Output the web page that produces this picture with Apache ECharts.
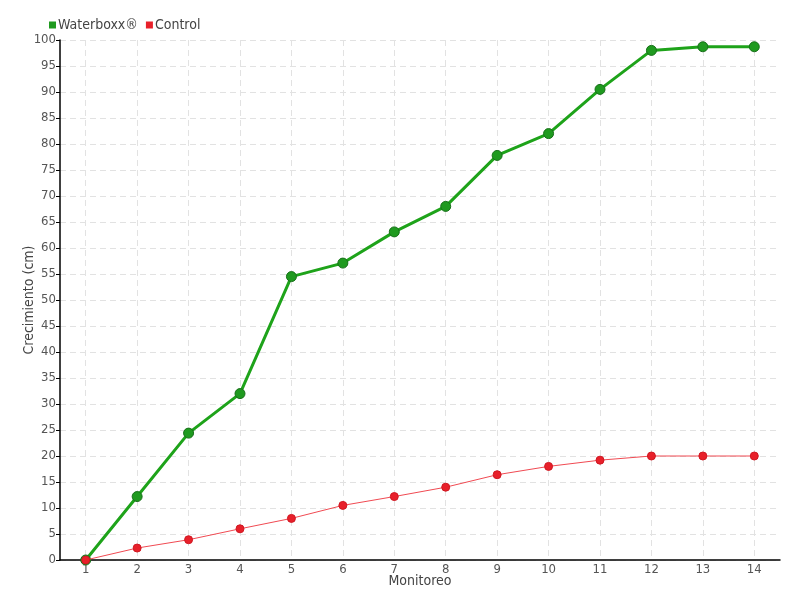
<!DOCTYPE html>
<html><head><meta charset="utf-8">
<script src="https://cdn.jsdelivr.net/npm/echarts@6/dist/echarts.min.js"></script>
<style>html,body{margin:0;padding:0;background:#fff}#c{width:800px;height:600px}</style>
</head><body><div id="c"></div>
<script>
const categories = ['1','2','3','4','5','6','7','8','9','10','11','12','13','14'];
const waterboxx = [0, 12.2, 24.4, 32.0, 54.5, 57.1, 63.1, 68.0, 77.8, 82.0, 90.5, 98.0, 98.7, 98.7];
const control = [0, 2.3, 3.9, 6.0, 8.0, 10.5, 12.2, 14.0, 16.4, 18.0, 19.2, 20.0, 20.0, 20.0];
const seriesNames = ['Waterboxx®', 'Control'];
const FONT = '"DejaVu Sans Condensed", "Liberation Sans Narrow", sans-serif';

const chart = echarts.init(document.getElementById('c'));
chart.setOption({
  backgroundColor: '#fff',
  textStyle: { fontFamily: FONT },
  legend: {
    left: 44, top: 13, itemWidth: 7, itemHeight: 7, itemGap: 8,
    icon: 'rect',
    itemStyle: { borderWidth: 0 },
    textStyle: { fontFamily: FONT, fontSize: 14, color: '#444', padding: [0,0,0,-3] },
    data: seriesNames
  },
  grid: { left: 60, right: 20, top: 40, bottom: 40 },
  xAxis: {
    type: 'category', data: categories, boundaryGap: true,
    name: 'Monitoreo', nameLocation: 'middle', nameGap: 14, nameMoveOverlap: false,
    nameTextStyle: { fontFamily: FONT, fontSize: 14, color: '#444', verticalAlign: 'top' },
    axisLine: { lineStyle: { color: '#000', width: 1.5 } },
    axisTick: { alignWithLabel: true, length: 4, lineStyle: { color: '#000' } },
    axisLabel: { fontFamily: FONT, fontSize: 13, color: '#555', margin: 3 },
    splitLine: { show: true, alignWithLabel: true, lineStyle: { color: '#e2e2e2', type: [6, 4] } }
  },
  yAxis: {
    type: 'value', min: 0, max: 100, interval: 5,
    name: 'Crecimiento (cm)', nameLocation: 'middle', nameGap: 24, nameMoveOverlap: false,
    nameTextStyle: { fontFamily: FONT, fontSize: 14, color: '#444' },
    axisLine: { show: true, lineStyle: { color: '#000', width: 1.5 } },
    axisTick: { show: true, length: 4, lineStyle: { color: '#000' } },
    axisLabel: { fontFamily: FONT, fontSize: 13, color: '#555', margin: 4 },
    splitLine: { show: true, lineStyle: { color: '#e2e2e2', type: [6, 4] } }
  },
  series: [
    {
      name: seriesNames[0], type: 'line', data: waterboxx,
      symbol: 'circle', symbolSize: 10, z: 2,
      itemStyle: { color: '#1f9a1f', borderColor: '#18701a', borderWidth: 1 },
      lineStyle: { color: '#1ea31a', width: 3 }
    },
    {
      name: seriesNames[1], type: 'line', data: control,
      symbol: 'circle', symbolSize: 8, z: 3,
      itemStyle: { color: '#e8202a', borderColor: '#d01822', borderWidth: 1 },
      lineStyle: { color: '#f04a52', width: 1 }
    }
  ],
  animation: false
});
</script></body></html>
